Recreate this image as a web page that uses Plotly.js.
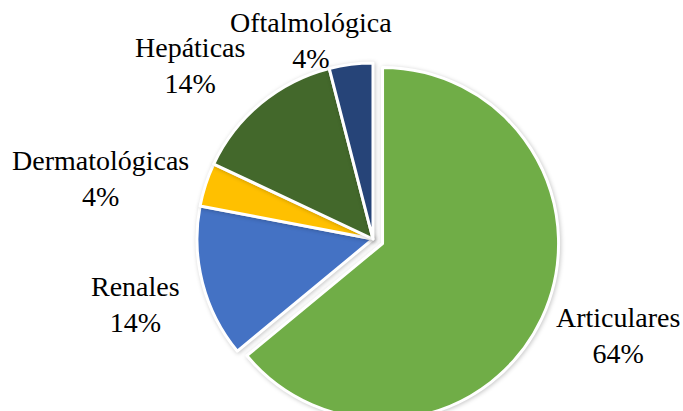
<!DOCTYPE html>
<html>
<head>
<meta charset="utf-8">
<script src="https://cdn.plot.ly/plotly-3.0.1.min.js"></script>
<style>
html, body { margin:0; padding:0; background:#fff; }
#wrap { width:683px; height:411px; overflow:hidden; position:relative; }
#chart { width:683px; height:478px; }
#chart .pielayer .slice path { filter: drop-shadow(1px 1px 2px rgba(0,0,0,0.22)); }
</style>
</head>
<body>
<div id="wrap"><div id="chart"></div></div>
<script>
const categories = ["Articulares", "Renales", "Dermatológicas", "Hepáticas", "Oftalmológica"];
const values = [64, 14, 4, 14, 4];
const colors = ["#70AD47", "#4472C4", "#FFC000", "#43682B", "#264478"];
const pulls = [0.06, 0, 0, 0, 0];

const FONT = "Liberation Serif";
const W = 683, H = 478;
// label block centres in pixels (layout only)
const labelPx = [[618, 335], [135, 304], [100, 178], [190, 65], [311, 41]];

const total = values.reduce((a, b) => a + b, 0);
const annotations = categories.map((c, i) => ({
  text: c + "<br>" + Math.round(values[i] / total * 100) + "%",
  xref: "paper", yref: "paper",
  x: labelPx[i][0] / W, y: 1 - labelPx[i][1] / H,
  xanchor: "center", yanchor: "middle", align: "center",
  showarrow: false,
  font: { family: FONT, size: 28, color: "#000000" }
}));

const trace = {
  type: "pie",
  labels: categories,
  values: values,
  sort: false,
  direction: "clockwise",
  rotation: 0,
  pull: pulls,
  marker: { colors: colors, line: { color: "#ffffff", width: 3 } },
  textinfo: "none",
  hoverinfo: "label+percent",
  domain: { x: [0.2729, 0.8193], y: [0, 1] },
  showlegend: false
};

const layout = {
  width: W,
  height: H,
  margin: { l: 0, r: 0, t: 0, b: 0 },
  paper_bgcolor: "#ffffff",
  plot_bgcolor: "#ffffff",
  showlegend: false,
  annotations: annotations
};

Plotly.newPlot("chart", [trace], layout, { staticPlot: true, displayModeBar: false });
</script>
</body>
</html>
